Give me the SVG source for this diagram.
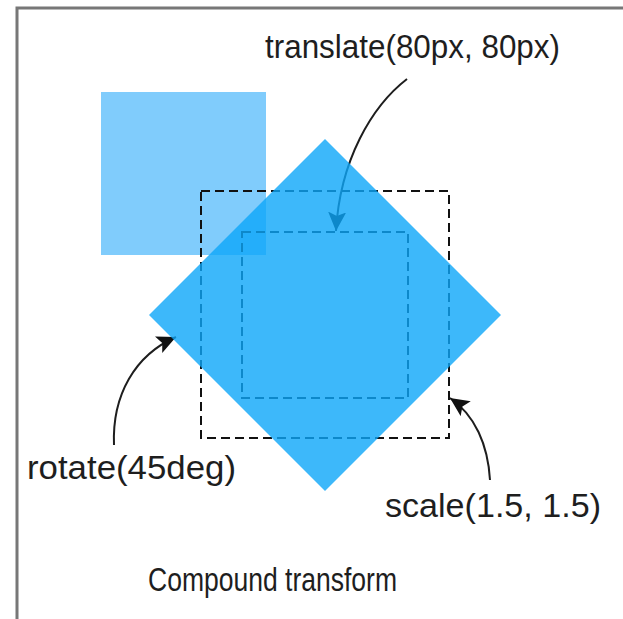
<svg xmlns="http://www.w3.org/2000/svg" width="623" height="619" viewBox="0 0 623 619">
  <defs>
    <style>
      .lbl { font-family: "Liberation Sans", Arial, sans-serif; font-size: 33px; fill: #1e1e1e; }
      .conn { fill: none; stroke: #1e1e1e; stroke-width: 2; }
      .dash { fill: none; stroke: #111; stroke-width: 2; stroke-dasharray: 9 5; }
    </style>
    <marker id="arr" markerUnits="userSpaceOnUse" markerWidth="20" markerHeight="18" refX="19" refY="9" orient="auto">
      <path d="M0,0 L19,9 L0,18 L4,9 z" fill="#111"/>
    </marker>
  </defs>
  <rect x="0" y="0" width="623" height="619" fill="#ffffff"/>
  <rect x="17" y="8" width="700" height="700" fill="none" stroke="#777" stroke-width="3"/>

  <g id="original-square">
    <rect x="101" y="92" width="165" height="163" fill="#80ccfc"/>
  </g>
  <g id="scaled-outline">
    <rect x="201" y="191" width="248" height="247" class="dash"/>
  </g>
  <g id="translated-outline">
    <rect x="242" y="232" width="166" height="166" class="dash" stroke-width="1.6"/>
  </g>
  <g id="connectors">
    <path class="conn" d="M407,79 C372,106 340,160 336,231" marker-end="url(#arr)"/>
    <path class="conn" d="M114,445 C112,395 135,355 176,337" marker-end="url(#arr)"/>
    <path class="conn" d="M490,480 C488,445 475,415 450,398" marker-end="url(#arr)"/>
  </g>
  <g id="rotated-square">
    <polygon points="325,139 501,315 325,491 149,315" fill="rgb(12,166,249)" fill-opacity="0.8"/>
  </g>

  <g id="label-translate"><text class="lbl" x="265" y="58" textLength="295" lengthAdjust="spacingAndGlyphs">translate(80px, 80px)</text></g>
  <g id="label-rotate"><text class="lbl" x="27" y="479" textLength="209" lengthAdjust="spacingAndGlyphs">rotate(45deg)</text></g>
  <g id="label-scale"><text class="lbl" x="385" y="517" textLength="216" lengthAdjust="spacingAndGlyphs">scale(1.5, 1.5)</text></g>
  <g id="label-title"><text class="lbl" x="148" y="591" textLength="249" lengthAdjust="spacingAndGlyphs">Compound transform</text></g>
</svg>
